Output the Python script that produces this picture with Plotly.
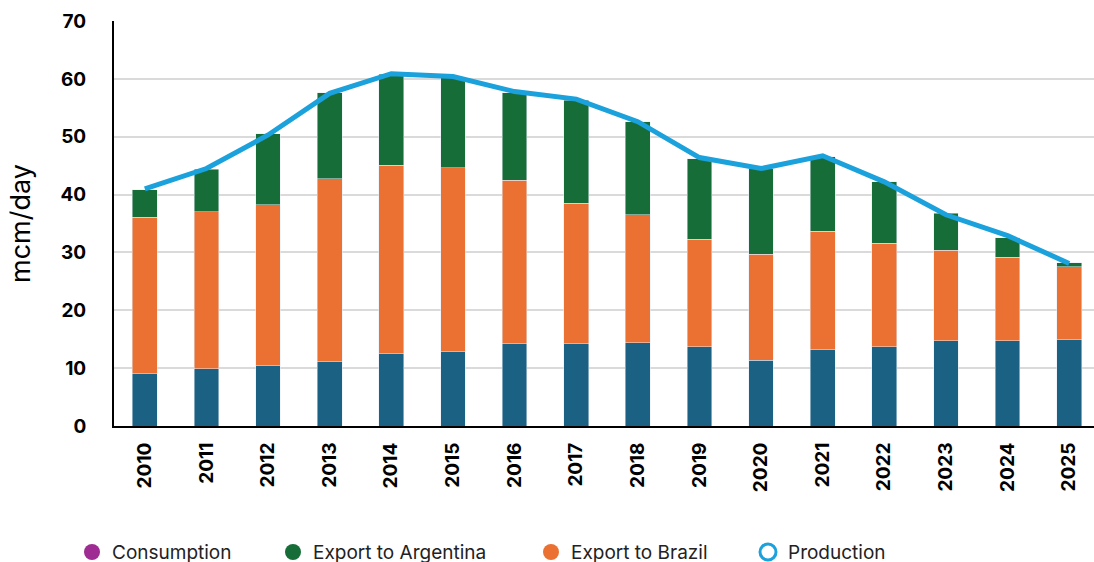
import plotly.graph_objects as go

years = [str(y) for y in range(2010, 2026)]
consumption = [9.0, 9.9, 10.4, 11.1, 12.5, 12.8, 14.2, 14.2, 14.4, 13.7, 11.4, 13.2, 13.7, 14.7, 14.7, 14.9]
export_brazil = [27.1, 27.1, 27.8, 31.6, 32.6, 31.8, 28.3, 24.3, 22.1, 18.6, 18.3, 20.5, 17.9, 15.7, 14.5, 12.6]
export_argentina = [4.7, 7.4, 12.3, 14.9, 15.7, 15.7, 15.1, 17.8, 16.1, 13.9, 14.8, 12.8, 10.6, 6.4, 3.3, 0.7]
production = [41.0, 44.5, 50.3, 57.5, 60.9, 60.4, 57.8, 56.5, 52.6, 46.4, 44.5, 46.7, 42.2, 36.5, 32.9, 28.1]
y_ticks = [0, 10, 20, 30, 40, 50, 60, 70]

C_CONS = "#1A6183"
C_CONS_LEG = "#9E2C92"
C_ARG = "#176D38"
C_BRA = "#EB7132"
C_PROD = "#1BA1DB"
FONT = "Inter, Roboto, sans-serif"

fig = go.Figure()
fig.add_bar(x=years, y=consumption, marker_color=C_CONS, showlegend=False, width=0.4)
fig.add_bar(x=years, y=export_brazil, marker_color=C_BRA, showlegend=False, width=0.4)
fig.add_bar(x=years, y=export_argentina, marker_color=C_ARG, showlegend=False, width=0.4)
fig.add_scatter(x=years, y=production, mode="lines", line=dict(color=C_PROD, width=5), showlegend=False)

leg_items = [
    ("Consumption", dict(color=C_CONS_LEG, size=16, symbol="circle"), "legend"),
    ("Export to Argentina", dict(color=C_ARG, size=16, symbol="circle"), "legend2"),
    ("Export to Brazil", dict(color=C_BRA, size=16, symbol="circle"), "legend3"),
    ("Production", dict(color="rgba(0,0,0,0)", size=16, symbol="circle", line=dict(color=C_PROD, width=3)), "legend4"),
]
for name, mk, lg in leg_items:
    fig.add_scatter(x=[None], y=[None], mode="markers", name=name, marker=mk, legend=lg)

W = 1100
leg_x = [72, 273, 531, 748]
common_leg = dict(orientation="h", xref="container", yref="container", yanchor="middle",
                  xanchor="left", y=0.0175, bgcolor="rgba(0,0,0,0)",
                  font=dict(family=FONT, size=19, color="#222"))
legends = {}
for i, lx in enumerate(leg_x):
    key = "legend" if i == 0 else f"legend{i+1}"
    legends[key] = dict(common_leg, x=lx / W)

fig.update_layout(
    barmode="stack",
    width=W, height=562,
    margin=dict(l=114, r=0, t=21, b=136, autoexpand=False),
    plot_bgcolor="white", paper_bgcolor="white",
    bargap=0.6,
    **legends,
)
fig.update_yaxes(range=[0, 70], tickvals=y_ticks, showgrid=True, gridcolor="#DADADA", gridwidth=1.5,
                 showline=True, linecolor="black", linewidth=2, ticks="", zeroline=False,
                 ticklabelstandoff=22,
                 tickfont=dict(family=FONT, size=19, color="black", weight="bold"),
                 title=dict(text="mcm/day", font=dict(family=FONT, size=27, color="black"), standoff=22))
fig.update_xaxes(showline=True, linecolor="black", linewidth=2, tickangle=-90, ticks="",
                 ticklabelstandoff=7,
                 tickfont=dict(family=FONT, size=19, color="black", weight="bold"))

fig.write_html("out.html", config={"displayModeBar": False},
               post_script="document.body.style.margin='0';document.body.style.overflow='hidden';")
